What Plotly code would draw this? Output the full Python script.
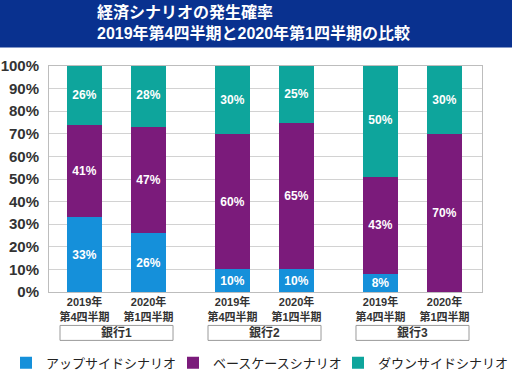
import plotly.graph_objects as go

# ---- data ----
categories = ["2019年<br>第4四半期", "2020年<br>第1四半期",
              "2019年<br>第4四半期", "2020年<br>第1四半期",
              "2019年<br>第4四半期", "2020年<br>第1四半期"]
x_pos = [0, 1, 2.3125, 3.3125, 4.625, 5.625]
banks = ["銀行1", "銀行2", "銀行3"]
bank_centers = [0.5, 2.8125, 5.125]

upside = [33, 26, 10, 10, 8, 0]
base = [41, 47, 60, 65, 43, 70]
downside = [26, 28, 30, 25, 50, 30]

series_names = ["アップサイドシナリオ", "ベースケースシナリオ", "ダウンサイドシナリオ"]
series_values = [upside, base, downside]
colors = ["#1590da", "#7b1b7b", "#0ea59c"]

y_ticks = [0, 10, 20, 30, 40, 50, 60, 70, 80, 90, 100]
y_ticktext = [f"{v}%" for v in y_ticks]

FONT = "Liberation Sans, Arial, Noto Sans CJK JP, sans-serif"

PL, PR, PT, PB = 49, 30, 65.5, 78
W, H = 512, 370
PW, PH = W - PL - PR, H - PT - PB

legend_ids = ["legend", "legend2", "legend3"]
legend_left_px = [6, 173, 338]

fig = go.Figure()
for name, vals, col, lid in zip(series_names, series_values, colors, legend_ids):
    fig.add_trace(go.Bar(
        x=x_pos, y=vals, name=name, marker_color=col, marker_line_width=0,
        width=0.547, legend=lid,
        text=[f"{v}%" if v > 0 else "" for v in vals],
        textposition="inside", insidetextanchor="middle", textangle=0,
        constraintext="none",
        textfont=dict(family=FONT, size=12, color="white", weight="bold"),
        hoverinfo="skip",
    ))

# title banner
fig.add_shape(type="rect", xref="paper", yref="paper",
              x0=-0.2, x1=1.2, y0=1 + (PT - 47) / PH, y1=1.35,
              fillcolor="#09318f", line_width=0, layer="below")

# bank group boxes
for b, c in zip(banks, bank_centers):
    fig.add_shape(type="rect", xref="x", yref="paper",
                  x0=c - 0.883, x1=c + 0.883,
                  y0=-(340.5 - (H - PB)) / PH, y1=-(325.5 - (H - PB)) / PH,
                  fillcolor="rgba(0,0,0,0)", line=dict(color="#9a9a9a", width=1))
    fig.add_annotation(x=c, y=-(333 - (H - PB)) / PH, xref="x", yref="paper", text=b,
                       showarrow=False, yanchor="middle",
                       font=dict(family=FONT, size=12, color="#333333", weight="bold"))

legend_common = dict(orientation="h", xanchor="left", yanchor="middle",
                     y=-(363 - (H - PB)) / PH,
                     font=dict(family=FONT, size=13, color="#222222"),
                     itemclick=False, itemdoubleclick=False,
                     bgcolor="rgba(0,0,0,0)")
legends = {}
for lid, px in zip(legend_ids, legend_left_px):
    legends[lid] = dict(legend_common, x=(px - PL) / PW)

fig.update_layout(
    width=W, height=H,
    margin=dict(l=PL, r=PR, t=PT, b=PB, autoexpand=False),
    paper_bgcolor="white", plot_bgcolor="white",
    barmode="stack",
    showlegend=True,
    title=dict(text="経済シナリオの発生確率<br>2019年第4四半期と2020年第1四半期の比較",
               x=97 / W, xanchor="left", xref="container",
               y=1 - 18 / H, yanchor="middle", yref="container",
               font=dict(family=FONT, size=16, color="white", weight="bold")),
    font=dict(family=FONT),
    **legends,
)
fig.update_xaxes(
    range=[-0.555, 6.211], tickvals=x_pos, ticktext=categories,
    tickfont=dict(family=FONT, size=11, color="#333333", weight="bold"),
    showgrid=False, zeroline=False, automargin=False,
    showline=True, linecolor="#bdbdbd", linewidth=1, mirror=True,
    ticks="", fixedrange=True,
)
fig.update_yaxes(
    range=[0, 100], tickvals=y_ticks, ticktext=y_ticktext,
    tickfont=dict(family=FONT, size=15, color="#333333", weight="bold"),
    showgrid=True, gridcolor="#d2d2d2", gridwidth=1, zeroline=False, automargin=False,
    showline=True, linecolor="#bdbdbd", linewidth=1, mirror=True,
    ticks="", ticklabelstandoff=6, fixedrange=True,
)

fig.write_html("out.html", config={"displayModeBar": False},
               post_script="document.body.style.margin='0';document.body.style.overflow='hidden';")
